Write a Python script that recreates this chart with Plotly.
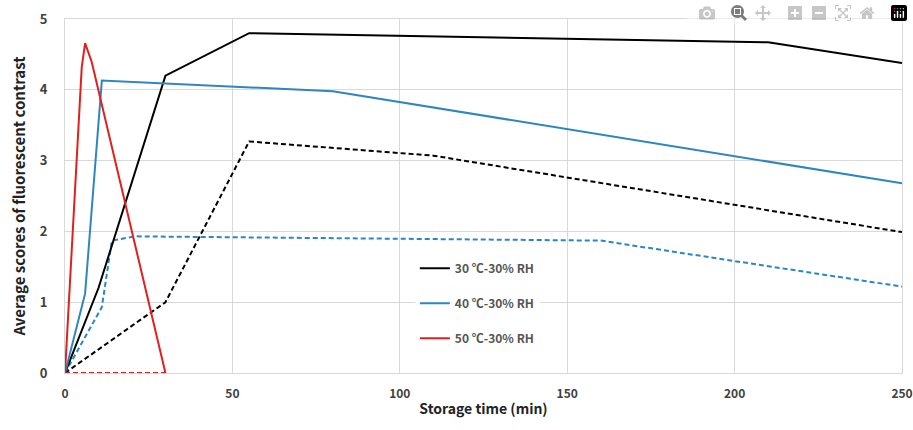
import plotly.graph_objects as go

# Data
x30_solid = [0, 10, 30, 55, 210, 250]
y30_solid = [0, 1.2, 4.2, 4.8, 4.67, 4.38]
x30_dash = [0, 30, 55, 110, 250]
y30_dash = [0, 1.0, 3.27, 3.07, 1.99]

x40_solid = [0, 6, 11, 80, 250]
y40_solid = [0, 1.12, 4.13, 3.98, 2.68]
x40_dash = [0, 11, 14, 21, 160, 250]
y40_dash = [0, 0.93, 1.87, 1.93, 1.87, 1.22]

x50_solid = [0, 5, 6, 8, 30]
y50_solid = [0, 4.32, 4.66, 4.39, 0]
x50_dash = [0, 30]
y50_dash = [0, 0]

names = ["30 ℃-30% RH", "40 ℃-30% RH", "50 ℃-30% RH"]
colors = ["#000000", "#2E86C1", "#E0201F"]

fig = go.Figure()
series = [
    (x30_solid, y30_solid, x30_dash, y30_dash),
    (x40_solid, y40_solid, x40_dash, y40_dash),
    (x50_solid, y50_solid, x50_dash, y50_dash),
]
for i, (xs, ys, xd, yd) in enumerate(series):
    fig.add_trace(go.Scatter(x=xd, y=yd, mode="lines", showlegend=False,
                             line=dict(color=colors[i], width=2, dash="5px,3px")))
for i, (xs, ys, xd, yd) in enumerate(series):
    fig.add_trace(go.Scatter(x=xs, y=ys, mode="lines", name=names[i],
                             legendgroup=f"g{i}",
                             line=dict(color=colors[i], width=2)))

yfont = dict(size=13, color="#404040", weight=600,
             family="Noto Sans CJK KR, Open Sans, sans-serif")
xfont = dict(size=12, color="#404040", weight=600,
             family="Noto Sans CJK KR, Open Sans, sans-serif")
fig.update_layout(
    width=913, height=430,
    margin=dict(l=65, r=11, t=19, b=57),
    plot_bgcolor="white", paper_bgcolor="white",
    font=dict(family="Noto Sans CJK KR, Open Sans, sans-serif", color="#333333"),
    legend=dict(x=0.418, y=0.337, xanchor="left", yanchor="top",
                bgcolor="rgba(255,255,255,1)", tracegroupgap=16,
                font=dict(size=12, color="#555555", weight=600)),
    xaxis=dict(range=[0, 250.001], tickvals=[0, 50, 100, 150, 200, 250],
               automargin=False, ticklabeloverflow="allow",
               showgrid=True, gridcolor="#d9d9d9", zeroline=False,
               showline=True, linecolor="#d9d9d9", mirror=True,
               ticks="", ticklabelstandoff=10,
               tickfont=xfont,
               title=dict(text="<b>Storage time (min)</b>", font=dict(size=14, color="#222222"), standoff=3)),
    yaxis=dict(range=[0, 5], tickvals=[0, 1, 2, 3, 4, 5],
               automargin=False,
               showgrid=True, gridcolor="#d9d9d9", zeroline=False,
               showline=True, linecolor="#d9d9d9", mirror=True,
               ticks="", ticklabelstandoff=14,
               tickfont=yfont,
               title=dict(text="<b>Average scores of fluorescent contrast</b>", font=dict(size=15, color="#222222"), standoff=10)),
)
fig.write_html("out.html",
               post_script="document.body.style.margin='0';document.body.style.overflow='hidden';")
